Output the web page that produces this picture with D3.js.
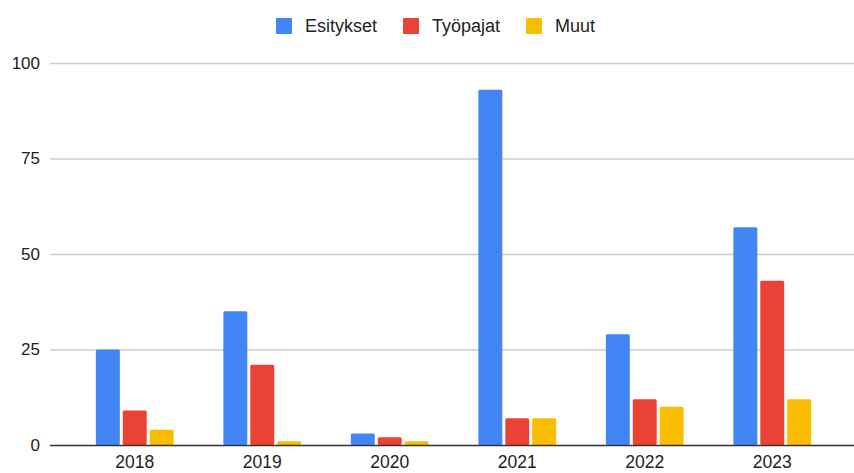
<!DOCTYPE html>
<html>
<head>
<meta charset="utf-8">
<script src="https://cdn.jsdelivr.net/npm/d3@7"></script>
<style>
  body { margin: 0; background: #fff; }
  text { font-family: "Liberation Sans", Arial, sans-serif; }
</style>
</head>
<body>
<svg width="854" height="473"></svg>
<script>
var years = ["2018", "2019", "2020", "2021", "2022", "2023"];
var seriesNames = ["Esitykset", "Työpajat", "Muut"];
var esitykset = [25, 35, 3, 93, 29, 57];
var tyopajat = [9, 21, 2, 7, 12, 43];
var muut = [4, 1, 1, 7, 10, 12];
var yTicks = [0, 25, 50, 75, 100];
var colors = ["#4285f4", "#ea4335", "#fbbc04"];

var seriesValues = [esitykset, tyopajat, muut];

var svg = d3.select("svg"),
    plotLeft = 50,
    plotRight = 854,
    plotTop = 63,
    plotBottom = 445;

var y = d3.scaleLinear()
    .domain([0, 100])
    .range([plotBottom, plotTop]);

var x0 = d3.scaleBand()
    .domain(years)
    .range([71, 836])
    .paddingInner(0.39)
    .paddingOuter(0.195);

var x1 = d3.scaleBand()
    .domain(seriesNames)
    .range([0, x0.bandwidth()])
    .paddingInner(0.11);

// gridlines
svg.append("g")
    .selectAll("line")
    .data(yTicks.filter(function (d) { return d > 0; }))
    .enter().append("line")
    .attr("x1", plotLeft)
    .attr("x2", plotRight)
    .attr("y1", function (d) { return y(d) + 0.5; })
    .attr("y2", function (d) { return y(d) + 0.5; })
    .attr("stroke", "#cccccc")
    .attr("stroke-width", 1.5);

// y labels
svg.append("g")
    .selectAll("text")
    .data(yTicks)
    .enter().append("text")
    .attr("x", 40)
    .attr("y", function (d) { return y(d); })
    .attr("dy", "0.35em")
    .attr("text-anchor", "end")
    .attr("font-size", 17)
    .attr("fill", "#222")
    .text(function (d) { return d; });

// bars
var groups = svg.append("g")
    .selectAll("g")
    .data(years)
    .enter().append("g")
    .attr("transform", function (d) { return "translate(" + x0(d) + ",0)"; });

groups.selectAll("rect")
    .data(function (d, i) {
        return seriesNames.map(function (s, k) {
            return {series: s, value: seriesValues[k][i], color: colors[k]};
        });
    })
    .enter().append("rect")
    .attr("x", function (d) { return x1(d.series); })
    .attr("y", function (d) { return y(d.value); })
    .attr("width", x1.bandwidth())
    .attr("height", function (d) { return plotBottom - y(d.value); })
    .attr("rx", 1.5)
    .attr("fill", function (d) { return d.color; });

// baseline
svg.append("line")
    .attr("x1", plotLeft)
    .attr("x2", plotRight)
    .attr("y1", plotBottom + 0.5)
    .attr("y2", plotBottom + 0.5)
    .attr("stroke", "#333")
    .attr("stroke-width", 1.3);

// x labels
svg.append("g")
    .selectAll("text")
    .data(years)
    .enter().append("text")
    .attr("x", function (d) { return x0(d) + x0.bandwidth() / 2; })
    .attr("y", 462)
    .attr("dy", "0.35em")
    .attr("text-anchor", "middle")
    .attr("font-size", 17.5)
    .attr("fill", "#222")
    .text(function (d) { return d; });

// legend
var legendX = [276, 403, 526];
var legend = svg.append("g")
    .selectAll("g")
    .data(seriesNames)
    .enter().append("g")
    .attr("transform", function (d, i) { return "translate(" + legendX[i] + ",26)"; });

legend.append("rect")
    .attr("x", 0)
    .attr("y", -8)
    .attr("width", 16)
    .attr("height", 16)
    .attr("rx", 1)
    .attr("fill", function (d, i) { return colors[i]; });

legend.append("text")
    .attr("x", 29)
    .attr("y", 0)
    .attr("dy", "0.35em")
    .attr("font-size", 18)
    .attr("fill", "#222")
    .text(function (d) { return d; });
</script>
</body>
</html>
